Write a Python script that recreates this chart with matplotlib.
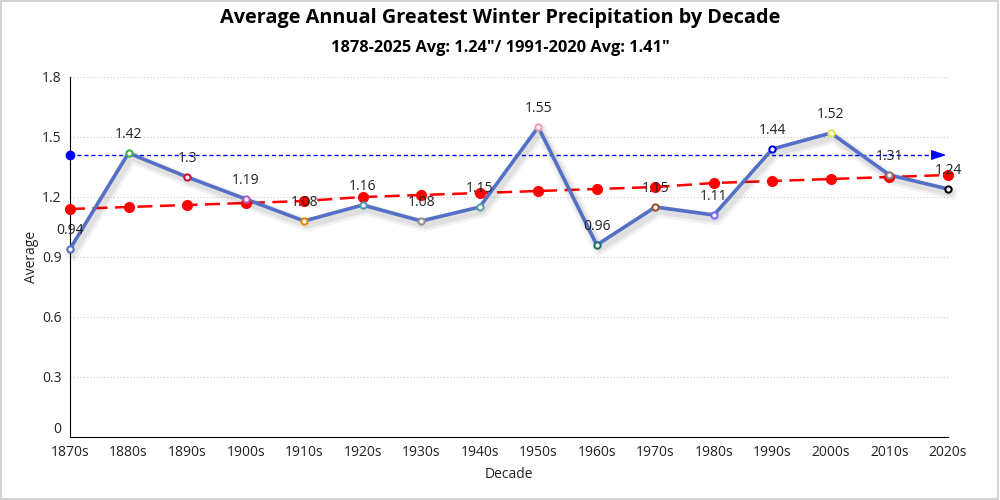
import matplotlib
matplotlib.use("Agg")
import matplotlib.pyplot as plt
import matplotlib.patheffects as pe

decades = ["1870s", "1880s", "1890s", "1900s", "1910s", "1920s", "1930s", "1940s",
           "1950s", "1960s", "1970s", "1980s", "1990s", "2000s", "2010s", "2020s"]
averages = [0.94, 1.42, 1.30, 1.19, 1.08, 1.16, 1.08, 1.15,
            1.55, 0.96, 1.15, 1.11, 1.44, 1.52, 1.31, 1.24]
trend = [1.14, 1.15, 1.16, 1.17, 1.18, 1.20, 1.21, 1.22,
         1.23, 1.24, 1.25, 1.27, 1.28, 1.29, 1.30, 1.31]
normal_avg = 1.41
marker_colors = ["#5470c6", "#3cb043", "#c0143c", "#b060c0", "#e08a00", "#4a9ab5",
                 "#909090", "#5f9ea0", "#e8a0b0", "#1e6e6e", "#a0522d", "#7b68ee",
                 "#0000ee", "#e6e64c", "#808080", "#000000"]

plt.rcParams['font.family'] = ['Open Sans', 'DejaVu Sans']

fig = plt.figure(figsize=(10, 5), dpi=100)
ax = fig.add_axes([0.07, 0.126, 0.878, 0.72])
x = list(range(len(decades)))

ax.set_ylim(0, 1.8)
ax.set_xlim(0, len(decades) - 1)
ax.set_yticks([0, 0.3, 0.6, 0.9, 1.2, 1.5, 1.8])
ax.set_yticklabels(["0", "0.3", "0.6", "0.9", "1.2", "1.5", "1.8"])
ax.yaxis.grid(True, color="#c8c8c8", linestyle=(0, (1, 2)), linewidth=0.8)
ax.set_axisbelow(True)
for s in ["top", "right"]:
    ax.spines[s].set_visible(False)
ax.spines["left"].set_color("black")
ax.spines["bottom"].set_color("black")
ax.tick_params(axis="y", length=0, labelsize=10, colors="#222222", pad=6)
ax.tick_params(axis="x", length=0, labelsize=10, colors="#222222", pad=6)
ax.set_xticks(x)
ax.set_xticklabels(decades)
ax.get_yticklabels()[0].set_verticalalignment("bottom")

# 1991-2020 average line
ax.plot([x[0], x[-1] - 0.05], [normal_avg, normal_avg], color="#0000ff", linestyle=(0, (3, 2)),
        linewidth=1.0, zorder=3, clip_on=False)
ax.plot([x[0]], [normal_avg], "o", color="#0000ff", markersize=6, zorder=4, clip_on=False)
ax.annotate("", xy=(x[-1] + 0.02, normal_avg), xytext=(x[-1] - 0.3, normal_avg),
            arrowprops=dict(arrowstyle="-|>,head_length=0.9,head_width=0.3", color="#0000ff", lw=1.0),
            zorder=4, annotation_clip=False)

# trend line
ax.plot(x, trend, color="#ff0000", linestyle=(0, (6, 3)), linewidth=1.8, zorder=3, clip_on=False)
ax.plot(x, trend, "o", color="#ff0000", markersize=7, zorder=6, clip_on=False)

# main series with soft shadow
shadow = [pe.SimpleLineShadow(offset=(2, -3), shadow_color="black", alpha=0.05, linewidth=9),
          pe.SimpleLineShadow(offset=(2, -3), shadow_color="black", alpha=0.07, linewidth=5),
          pe.Normal()]
ax.plot(x, averages, color="#5470c6", linewidth=2.6, zorder=5, clip_on=False, path_effects=shadow)
for xi, yi, c in zip(x, averages, marker_colors):
    ax.plot([xi], [yi], "o", markerfacecolor="white", markeredgecolor=c, markersize=4.5,
            markeredgewidth=1.5, zorder=7, clip_on=False)
    ax.annotate(f"{yi:g}", (xi, yi), xytext=(0, 8), textcoords="offset points",
                ha="center", va="bottom", fontsize=10, color="#222222", zorder=8)

ax.set_xlabel("Decade", fontsize=10, color="#222222", labelpad=5)
ax.set_ylabel("Average", fontsize=10, color="#222222", labelpad=2)

fig.text(0.5, 0.963, "Average Annual Greatest Winter Precipitation by Decade", ha="center", va="center",
         fontsize=14.3, fontweight="bold", color="black")
fig.text(0.5, 0.905, "1878-2025 Avg: 1.24\"/ 1991-2020 Avg: 1.41\"", ha="center", va="center",
         fontsize=11.8, fontweight="bold", color="black")

fig.patches.append(plt.Rectangle((0.001, 0.002), 0.997, 0.996, transform=fig.transFigure,
                                 fill=False, edgecolor="#cccccc", linewidth=1.2))

fig.savefig("out.png", dpi=100, facecolor="white")
